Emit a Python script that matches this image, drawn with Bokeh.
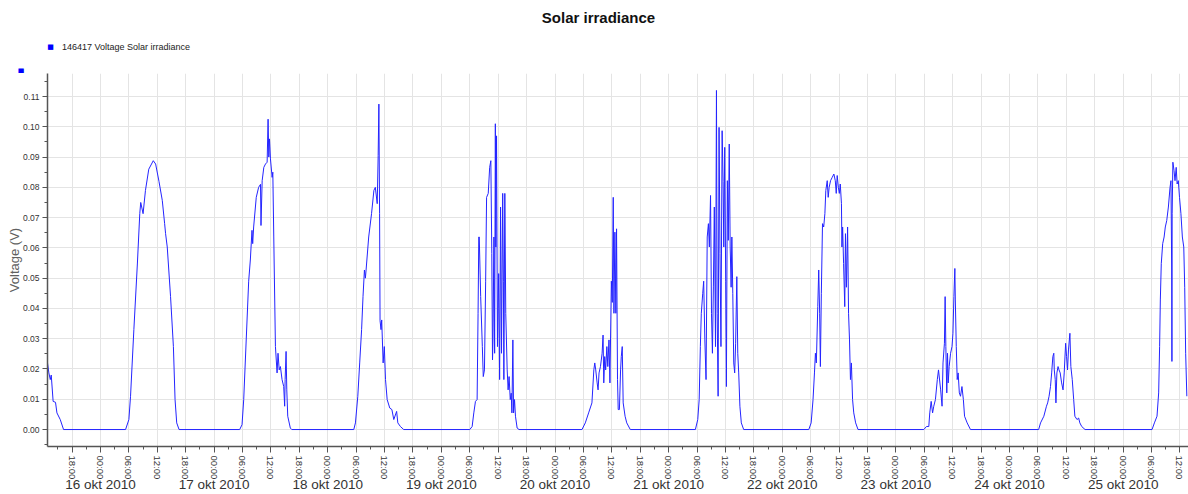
from bokeh.plotting import figure
from bokeh.layouts import column
from bokeh.models import Range1d, FixedTicker, LinearAxis, Label, PrintfTickFormatter
from bokeh.embed import file_html
from bokeh.resources import INLINE

TITLE = "Solar irradiance"
SERIES_NAME = "146417 Voltage Solar irradiance"
Y_LABEL = "Voltage (V)"

# time in hours since 16 okt 2010 00:00, voltage in V
day15_t = [-11.19, -10.9, -10.6, -10.4, -10.0, -9.5, -9.2, -8.5, -7.8]
day15_v = [0.022, 0.0187, 0.0165, 0.018, 0.0093, 0.009, 0.0055, 0.0033, 0.0]

day16_t = [5.3, 6.0, 6.35, 7.05, 7.8, 8.3, 8.5, 9.0, 9.5, 10.2, 11.15, 11.65, 12.35,
           13.05, 13.55, 13.75, 14.1, 14.8, 15.4, 15.75, 16.1, 16.6]
day16_v = [0.0, 0.0033, 0.011, 0.033, 0.055, 0.0713, 0.075, 0.0713, 0.079, 0.086, 0.0888,
           0.0877, 0.082, 0.0757, 0.068, 0.0647, 0.0603, 0.0439, 0.0274, 0.0099, 0.0022, 0.0]

day17_t = [29.4, 29.9, 30.25, 31.3, 31.65, 32.0, 32.15, 32.35, 32.9, 33.4, 33.8, 33.9, 34.15,
           34.5, 34.85, 35.2, 35.4, 35.55, 35.7, 35.9, 36.25, 36.4, 36.6, 36.95, 37.3, 37.5,
           37.75, 38.0, 38.35, 38.7, 38.9, 39.0, 39.2, 39.35, 39.55, 40.1, 40.4]
day17_v = [0.0, 0.0016, 0.0099, 0.049, 0.056, 0.0658, 0.0614, 0.0669, 0.0767, 0.080, 0.081,
           0.0674, 0.0822, 0.0866, 0.0877, 0.0883, 0.1025, 0.090, 0.096, 0.0894, 0.0833, 0.085,
           0.0636, 0.0274, 0.0187, 0.0252, 0.0197, 0.0208, 0.0165, 0.0142, 0.0077, 0.0165,
           0.0258, 0.0131, 0.0044, 0.0005, 0.0]

day18_t = [53.5, 53.85, 54.35, 54.75, 55.15, 55.45, 55.75, 55.95, 56.1, 56.65, 57.25, 57.75,
           58.05, 58.45, 58.65, 58.8, 58.95, 59.05, 59.25, 59.4, 59.7, 59.95, 60.2, 60.55,
           61.1, 61.55, 61.95, 62.55, 62.8, 63.35, 64.05]
day18_v = [0.0, 0.0022, 0.011, 0.022, 0.033, 0.044, 0.0527, 0.050, 0.0527, 0.0636, 0.0713,
           0.079, 0.080, 0.0746, 0.0905, 0.1075, 0.0713, 0.036, 0.033, 0.0362, 0.022, 0.0274,
           0.0165, 0.0099, 0.0071, 0.0066, 0.0033, 0.006, 0.0022, 0.001, 0.0]

day19_t = [78.0, 78.5, 78.85, 79.2, 79.55, 79.75, 79.9, 80.0, 80.3, 80.65, 80.85, 81.1, 81.35,
           81.55, 81.9, 82.2, 82.45, 82.65, 82.8, 82.9, 83.1, 83.25, 83.4, 83.5, 83.65, 83.85,
           84.1, 84.3, 84.5, 84.7, 84.95, 85.1, 85.2, 85.4, 85.6, 85.9, 86.1, 86.3, 86.55,
           86.75, 86.9, 87.1, 87.25, 87.45, 87.65, 88.0, 88.4]
day19_v = [0.0, 0.001, 0.0055, 0.0093, 0.0099, 0.0384, 0.0636, 0.0636, 0.0439, 0.0274, 0.0175,
           0.0197, 0.049, 0.0767, 0.078, 0.0866, 0.0888, 0.0581, 0.023, 0.0296, 0.0636, 0.0252,
           0.101, 0.0603, 0.097, 0.0274, 0.0515, 0.0165, 0.0735, 0.0252, 0.078, 0.049, 0.0165,
           0.078, 0.0384, 0.0197, 0.0131, 0.0175, 0.0099, 0.012, 0.0055, 0.0296, 0.0055, 0.0099,
           0.0044, 0.0005, 0.0]

day20_t = [101.7, 102.4, 103.1, 103.8, 104.2, 104.4, 104.6, 104.9, 105.1, 105.3, 105.6, 105.95,
           106.15, 106.3, 106.5, 106.7, 106.95, 107.15, 107.4, 107.6, 107.9, 108.1, 108.3,
           108.45, 108.65, 108.85, 109.0, 109.2, 109.35, 109.6, 109.85, 110.0, 110.2, 110.4,
           110.8, 111.15, 111.9]
day20_v = [0.0, 0.0022, 0.0055, 0.0088, 0.0197, 0.022, 0.0197, 0.0154, 0.0131, 0.0187, 0.0208,
           0.0252, 0.0312, 0.0154, 0.0241, 0.0197, 0.0274, 0.0208, 0.0296, 0.0154, 0.049, 0.042,
           0.0767, 0.0384, 0.0652, 0.0384, 0.0663, 0.0165, 0.0066, 0.0066, 0.0197, 0.0241,
           0.0274, 0.0088, 0.0044, 0.0022, 0.0]

day21_t = [125.65, 126.15, 126.45, 126.7, 126.9, 127.2, 127.4, 127.65, 127.9, 128.15, 128.4,
           128.6, 128.85, 129.05, 129.25, 129.45, 129.65, 129.9, 130.1, 130.25, 130.45, 130.65,
           130.85, 131.05, 131.3, 131.5, 131.65, 131.85, 132.05, 132.2, 132.4, 132.6, 132.8,
           133.0, 133.2, 133.35, 133.55, 133.75, 133.95, 134.15, 134.4, 134.6, 134.8, 135.05,
           135.35, 135.85]
day21_v = [0.0, 0.0033, 0.0099, 0.0274, 0.0384, 0.045, 0.049, 0.0296, 0.0165, 0.0636, 0.068,
           0.0603, 0.0773, 0.0384, 0.0252, 0.0471, 0.0735, 0.0274, 0.112, 0.0384, 0.011, 0.0998,
           0.0581, 0.0274, 0.0987, 0.082, 0.0603, 0.0932, 0.049, 0.0142, 0.0822, 0.0625, 0.0943,
           0.0603, 0.047, 0.0636, 0.045, 0.022, 0.0187, 0.0285, 0.0505, 0.0252, 0.0187, 0.0077,
           0.0022, 0.0]

day22_t = [149.6, 150.1, 150.5, 150.8, 151.0, 151.2, 151.5, 151.7, 151.9, 152.05, 152.25, 152.5,
           152.75, 153.0, 153.2, 153.5, 153.7, 153.9, 154.2, 154.55, 154.9, 155.2, 155.4, 155.6,
           155.85, 156.05, 156.25, 156.5, 156.6, 156.75, 156.95, 157.2, 157.35, 157.55, 157.8,
           158.0, 158.2, 158.4, 158.6, 158.85, 159.1, 159.5, 160.0]
day22_v = [0.0, 0.0022, 0.0099, 0.0187, 0.0252, 0.022, 0.0406, 0.0527, 0.0384, 0.0208, 0.045,
           0.068, 0.0669, 0.0713, 0.079, 0.0822, 0.0767, 0.080, 0.0822, 0.0833, 0.0844, 0.0822,
           0.078, 0.0839, 0.080, 0.078, 0.0811, 0.0746, 0.0603, 0.0669, 0.0548, 0.0406, 0.0647,
           0.047, 0.0669, 0.0384, 0.0296, 0.0165, 0.022, 0.0099, 0.0055, 0.0022, 0.0]

day23_t = [173.9, 174.45, 174.95, 175.15, 175.45, 175.75, 176.0, 176.35, 176.75, 177.0, 177.45,
           177.75, 177.95, 178.25, 178.4, 178.55, 178.75, 178.9, 179.05, 179.25, 179.55, 179.85,
           180.05, 180.25, 180.45, 180.55, 180.75, 180.95, 181.15, 181.4, 181.65, 181.95,
           182.25, 182.5, 183.05, 183.75]
day23_v = [0.0, 0.001, 0.001, 0.0055, 0.0093, 0.0055, 0.0077, 0.0099, 0.0165, 0.0197, 0.0131,
           0.0077, 0.022, 0.0285, 0.0439, 0.0274, 0.0121, 0.0252, 0.0154, 0.0208, 0.0252, 0.0274,
           0.0318, 0.0439, 0.0532, 0.0428, 0.0274, 0.0165, 0.0187, 0.0121, 0.011, 0.0142, 0.0099,
           0.0044, 0.0022, 0.0]

day24_t = [198.15, 198.55, 199.25, 199.8, 200.05, 200.35, 200.65, 200.9, 201.15, 201.35, 201.45,
           201.65, 201.8, 202.0, 202.25, 202.45, 202.7, 203.0, 203.3, 203.55, 203.85, 204.05,
           204.25, 204.45, 204.75, 204.95, 205.25, 205.55, 205.8, 206.25, 206.6, 206.85, 207.25,
           207.95]
day24_v = [0.0, 0.0022, 0.0044, 0.0077, 0.0088, 0.011, 0.0142, 0.0187, 0.0241, 0.0252, 0.0197,
           0.0165, 0.0088, 0.0187, 0.0208, 0.0197, 0.0187, 0.0154, 0.0131, 0.0187, 0.0285, 0.0241,
           0.0197, 0.0263, 0.0318, 0.0208, 0.0165, 0.0099, 0.0044, 0.0033, 0.0038, 0.0022, 0.001,
           0.0]

day25_t = [222.1, 222.6, 223.15, 223.5, 223.7, 223.85, 224.05, 224.35, 224.65, 224.9, 225.2,
           225.55, 225.9, 226.1, 226.25, 226.3, 226.35, 226.5, 226.75, 226.95, 227.2, 227.4,
           227.65, 227.9, 228.2, 228.5, 228.8, 229.0, 229.2, 229.45]
day25_v = [0.0, 0.0022, 0.0044, 0.0121, 0.0274, 0.0428, 0.0548, 0.0614, 0.0636, 0.0669, 0.069,
           0.0735, 0.080, 0.0822, 0.0527, 0.0225, 0.0713, 0.0883, 0.0855, 0.0822, 0.0866, 0.0811,
           0.0822, 0.0767, 0.0713, 0.0636, 0.0603, 0.047, 0.0252, 0.011]

# axis ticks and labels
hour_ticks = [-6, 0, 6, 12, 18, 24, 30, 36, 42, 48, 54, 60, 66, 72, 78, 84, 90, 96, 102, 108,
              114, 120, 126, 132, 138, 144, 150, 156, 162, 168, 174, 180, 186, 192, 198, 204,
              210, 216, 222, 228]
hour_labels = ["%02d:00" % (h % 24) for h in hour_ticks]
date_ticks = [0, 24, 48, 72, 96, 120, 144, 168, 192, 216]
date_labels = ["16 okt 2010", "17 okt 2010", "18 okt 2010", "19 okt 2010", "20 okt 2010",
               "21 okt 2010", "22 okt 2010", "23 okt 2010", "24 okt 2010", "25 okt 2010"]
volt_ticks = [0.0, 0.01, 0.02, 0.03, 0.04, 0.05, 0.06, 0.07, 0.08, 0.09, 0.10, 0.11]

hours = (day15_t + day16_t + day17_t + day18_t + day19_t + day20_t + day21_t + day22_t
         + day23_t + day24_t + day25_t)
volts = (day15_v + day16_v + day17_v + day18_v + day19_v + day20_v + day21_v + day22_v
         + day23_v + day24_v + day25_v)

FONT = "Liberation Sans"
TXT = "#333333"
AX = "#555555"

# ---- header strip: title and legend (pixel coordinates) ----
head = figure(width=1188, height=73, output_backend="svg", toolbar_location=None,
              x_range=Range1d(0, 1188), y_range=Range1d(73, 0),
              x_axis_type=None, y_axis_type=None,
              min_border_left=0, min_border_right=0, min_border_top=0, min_border_bottom=0)
if "frame_align" in head.properties():
    head.frame_align = False
head.outline_line_color = None
head.background_fill_color = "white"
head.border_fill_color = "white"
head.add_layout(Label(x=598, y=17, text=TITLE, text_font=FONT, text_font_size="15px",
                      text_font_style="bold", text_color="#111111",
                      text_align="center", text_baseline="middle"))
head.add_layout(Label(x=50, y=46.5, text="\u25a0", text_font="DejaVu Sans",
                      text_font_size="7px", text_color="#0000ff",
                      text_align="center", text_baseline="middle"))
head.add_layout(Label(x=61.5, y=46.5, text=SERIES_NAME, text_font=FONT,
                      text_font_size="9px", text_color="#222222",
                      text_align="left", text_baseline="middle"))
head.add_layout(Label(x=20.5, y=70, text="\u25a0", text_font="DejaVu Sans",
                      text_font_size="7px", text_color="#0000ff",
                      text_align="center", text_baseline="middle"))

# ---- main chart ----
p = figure(width=1188, height=421, output_backend="svg", toolbar_location=None,
           x_range=Range1d(-11.19, 229.8), y_range=Range1d(-0.0056, 0.1176),
           min_border_left=47, min_border_right=0, min_border_top=0, min_border_bottom=47)
if "frame_align" in p.properties():
    p.frame_align = False
p.outline_line_color = None
p.background_fill_color = "white"
p.border_fill_color = "white"

p.line(hours, volts, line_color="#2424ff", line_width=1)

# x axis (hours)
xa = p.xaxis[0]
xa.ticker = FixedTicker(ticks=hour_ticks, minor_ticks=[h + 3 for h in hour_ticks] + [hour_ticks[0] - 3])
xa.major_label_overrides = {t: l for t, l in zip(hour_ticks, hour_labels)}
xa.major_label_orientation = "vertical"
xa.major_label_text_font = FONT
xa.major_label_text_font_size = "9.5px"
xa.major_label_text_color = TXT
xa.major_label_standoff = 3
xa.major_tick_out = 6
xa.major_tick_in = 0
xa.minor_tick_out = 3
xa.minor_tick_in = 0
xa.axis_line_color = AX
xa.axis_line_width = 1.5
xa.major_tick_line_color = AX
xa.minor_tick_line_color = AX

# date row
da = LinearAxis(ticker=FixedTicker(ticks=date_ticks),
                major_label_overrides={t: l for t, l in zip(date_ticks, date_labels)})
da.axis_line_color = None
da.major_tick_line_color = None
da.minor_tick_line_color = None
da.major_tick_out = 0
da.major_tick_in = 0
da.minor_tick_out = 0
da.major_label_standoff = -6
da.major_label_text_font = FONT
da.major_label_text_font_size = "13.5px"
da.major_label_text_color = TXT
p.add_layout(da, "below")

# y axis
ya = p.yaxis[0]
ya.ticker = FixedTicker(ticks=volt_ticks,
                        minor_ticks=[round(-0.005 + 0.01 * i, 3) for i in range(13)])
ya.formatter = PrintfTickFormatter(format="%.2f")
ya.major_label_text_font = FONT
ya.major_label_text_font_size = "8.5px"
ya.major_label_text_color = TXT
ya.major_label_standoff = 3
ya.major_tick_out = 5
ya.major_tick_in = 0
ya.minor_tick_out = 3
ya.minor_tick_in = 0
ya.axis_line_color = AX
ya.axis_line_width = 1.5
ya.major_tick_line_color = AX
ya.minor_tick_line_color = AX
ya.axis_label = Y_LABEL
ya.axis_label_text_font = FONT
ya.axis_label_text_font_size = "13px"
ya.axis_label_text_font_style = "normal"
ya.axis_label_text_color = "#606060"
ya.axis_label_standoff = -2

p.xgrid.grid_line_color = "#e4e4e4"
p.ygrid.grid_line_color = "#e4e4e4"
p.xgrid.grid_line_width = 1
p.ygrid.grid_line_width = 1

layout = column(head, p, spacing=0)
open("out.html", "w").write(file_html(layout, INLINE))
